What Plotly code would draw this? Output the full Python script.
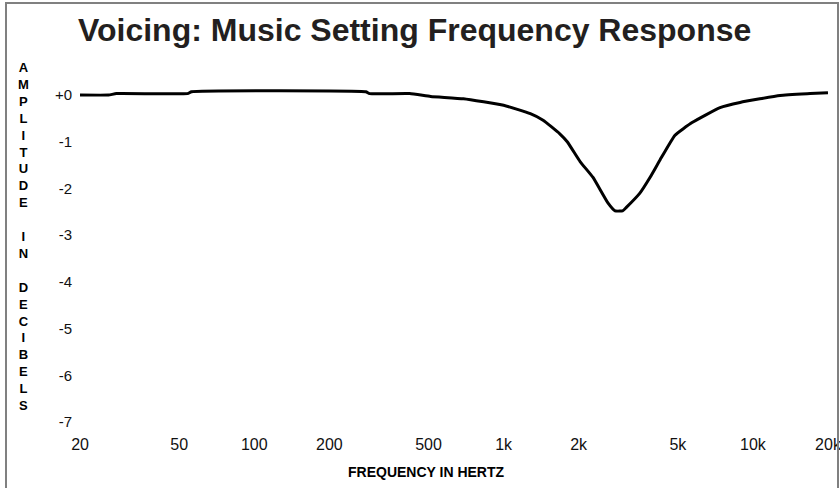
import math
import plotly.graph_objects as go

# Frequency response data (Hz, dB)
freq_hz = [20, 26, 28, 54, 56, 280, 290, 420, 510, 690, 1000, 1280, 1440, 1680,
           1800, 2030, 2280, 2620, 2800, 3000, 3100, 3520, 3870, 4240, 4870,
           5700, 7380, 8880, 12850, 16960, 20000]
amp_db = [0.0, 0.0, 0.03, 0.03, 0.07, 0.07, 0.03, 0.03, -0.03, -0.08, -0.22,
          -0.40, -0.54, -0.83, -1.0, -1.43, -1.76, -2.31, -2.48, -2.48, -2.41,
          -2.10, -1.76, -1.39, -0.86, -0.59, -0.27, -0.16, -0.01, 0.03, 0.05]

x_tick_vals = [20, 50, 100, 200, 500, 1000, 2000, 5000, 10000, 20000]
x_tick_text = ["20", "50", "100", "200", "500", "1k", "2k", "5k", "10k", "20k"]
y_tick_vals = [0, -1, -2, -3, -4, -5, -6, -7]
y_tick_text = ["+0", "-1", "-2", "-3", "-4", "-5", "-6", "-7"]

title_text = "Voicing: Music Setting Frequency Response"
x_title = "FREQUENCY IN HERTZ"
y_title = "AMPLITUDE IN DECIBELS"

FONT = "Liberation Sans, Arial, sans-serif"
W, H = 840, 488
L, R, T, B = 80, 12, 81, 66
PW, PH = W - L - R, H - T - B

fig = go.Figure()
fig.add_trace(go.Scatter(x=freq_hz, y=amp_db, mode="lines",
                         line=dict(color="#000000", width=3, shape="spline", smoothing=0.4),
                         hoverinfo="skip", showlegend=False))

def px_x(px):
    return (px - L) / PW

def px_y(py):
    return (H - B - py) / PH

# vertical stacked y-axis title
lines = []
for word_i, word in enumerate(y_title.split(" ")):
    if word_i > 0:
        lines.append("\u00a0")
    lines.extend(list(word))
y_title_html = "<br>".join(lines)

eps = 1e-4
fig.update_layout(
    width=W, height=H,
    margin=dict(l=L, r=R, t=T, b=B, pad=0, autoexpand=False),
    paper_bgcolor="white", plot_bgcolor="white",
    showlegend=False,
    xaxis=dict(type="log", range=[math.log10(20) - eps, math.log10(20000) + eps],
               tickvals=x_tick_vals, ticktext=x_tick_text, showgrid=False,
               zeroline=False, showline=False, ticks="outside", ticklen=8,
               tickcolor="rgba(0,0,0,0)", ticklabeloverflow="allow", automargin=False,
               tickfont=dict(family=FONT, size=16, color="#111111")),
    yaxis=dict(range=[-7, 0.3], tickvals=y_tick_vals, ticktext=y_tick_text,
               showgrid=False, zeroline=False, showline=False, automargin=False,
               ticks="outside", ticklen=4, tickcolor="rgba(0,0,0,0)",
               tickfont=dict(family=FONT, size=15, color="#111111")),
    annotations=[
        dict(text="<b>" + title_text + "</b>", xref="paper", yref="paper",
             x=px_x(414), y=px_y(30), xanchor="center", yanchor="middle",
             showarrow=False, font=dict(family=FONT, size=32, color="#231f20")),
        dict(text="<b>" + x_title + "</b>", xref="paper", yref="paper",
             x=px_x(426), y=px_y(472), xanchor="center", yanchor="middle",
             showarrow=False, font=dict(family=FONT, size=14, color="#000000")),
        dict(text="<b>" + y_title_html + "</b>", xref="paper", yref="paper",
             x=px_x(23), y=px_y(236.5), xanchor="center", yanchor="middle",
             align="center", showarrow=False,
             font=dict(family=FONT, size=13, color="#000000")),
    ],
    shapes=[
        dict(type="rect", xref="paper", yref="paper",
             x0=px_x(6), x1=px_x(838), y0=px_y(495), y1=px_y(3),
             line=dict(color="#808080", width=2), fillcolor="rgba(0,0,0,0)"),
    ],
)

fig.write_html("out.html", config={"displayModeBar": False},
               post_script="document.body.style.margin='0';document.body.style.overflow='hidden';")
